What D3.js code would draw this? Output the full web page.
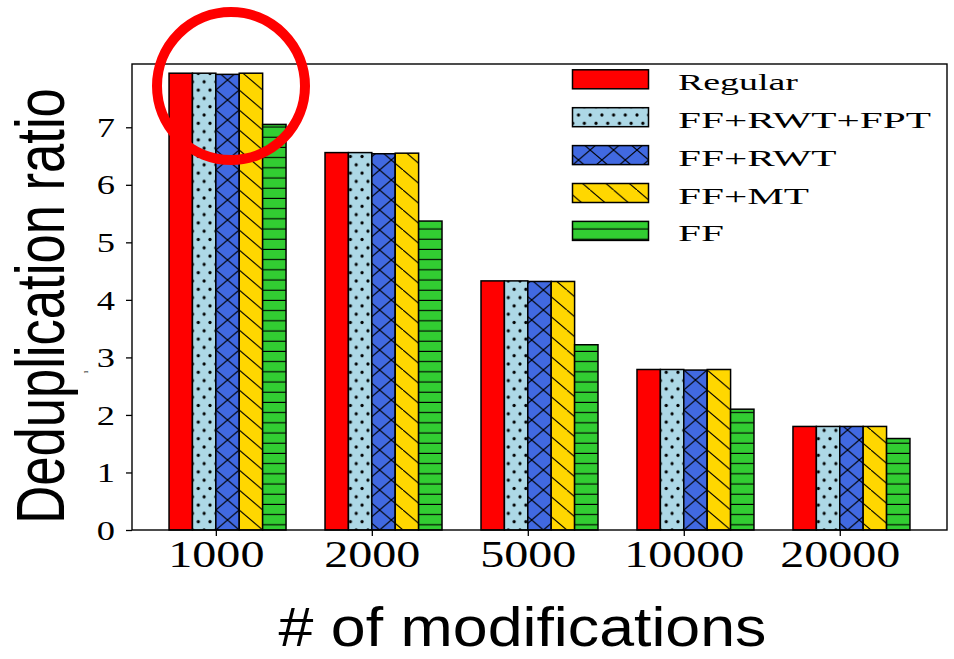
<!DOCTYPE html>
<html>
<head>
<meta charset="utf-8">
<script src="https://cdn.jsdelivr.net/npm/d3@7"></script>
<style>
  html, body { margin: 0; padding: 0; background: #fff; }
  svg { display: block; }
</style>
</head>
<body>
<script>
// ---- data ----
const categories = ["1000", "2000", "5000", "10000", "20000"];
const seriesNames = ["Regular", "FF+RWT+FPT", "FF+RWT", "FF+MT", "FF"];
const regular   = [7.94, 6.56, 4.33, 2.79, 1.80];
const ffRwtFpt  = [7.94, 6.56, 4.33, 2.79, 1.80];
const ffRwt     = [7.92, 6.54, 4.32, 2.78, 1.80];
const ffMt      = [7.94, 6.55, 4.32, 2.79, 1.80];
const ff        = [7.05, 5.37, 3.22, 2.10, 1.59];
const yTicks    = [0, 1, 2, 3, 4, 5, 6, 7];
const xLabel = "# of modifications";
const yLabel = "Deduplication ratio";

const seriesValues = [regular, ffRwtFpt, ffRwt, ffMt, ff];
const colors = ["#ff0000", "#add8e6", "#4169e1", "#ffd700", "#32cd32"];
const hatchIds = [null, "hDots", "hCross", "hBack", "hHoriz"];

const W = 954, H = 659;
const plot = { left: 132, right: 947, top: 64, bottom: 530 };
const barW = 0.15;

const svg = d3.select("body").append("svg").attr("width", W).attr("height", H);

const x = d3.scaleLinear().domain([-0.5375, 4.6875]).range([plot.left, plot.right]);
const y = d3.scaleLinear().domain([0, 8.1]).range([plot.bottom, plot.top]);

// ---- hatch patterns ----
const defs = svg.append("defs");
const tileW = x(barW) - x(0), tileH = 20;
function pat(id, w, h, ox) {
  return defs.append("pattern").attr("id", id).attr("patternUnits", "userSpaceOnUse")
    .attr("x", ox).attr("y", plot.bottom).attr("width", w).attr("height", h);
}
let p = pat("hCross", tileW, tileH, x(0));
p.append("path").attr("d", `M0,0L${tileW},${tileH}M${tileW},0L0,${tileH}`)
  .attr("stroke", "#000").attr("stroke-width", 1.1).attr("fill", "none");
p = pat("hBack", tileW, tileH, x(0.15));
p.append("path").attr("d", `M0,0L${tileW},${tileH}M${-tileW},0L0,${tileH}M${tileW},${-tileH}L${2*tileW},0`)
  .attr("stroke", "#000").attr("stroke-width", 1.1).attr("fill", "none");
p = pat("hHoriz", 20, 10.2, 0);
p.append("path").attr("d", "M0,5L20,5").attr("stroke", "#000").attr("stroke-width", 1.1);
const dw = tileW / 2, dh = 16.6;
p = pat("hDots", dw, dh, x(-0.15));
[[0,0],[dw,0],[0,dh],[dw,dh],[dw/2,dh/2]].forEach(([cx, cy]) =>
  p.append("circle").attr("cx", cx).attr("cy", cy).attr("r", 1.6).attr("fill", "#000"));

// ---- bars ----
const flat = [];
seriesValues.forEach((vals, k) => vals.forEach((v, i) => flat.push({ k, i, v })));
const gBars = svg.append("g");
flat.forEach(d => {
  const x0 = x(d.i + (d.k - 2) * barW), x1 = x(d.i + (d.k - 1) * barW);
  gBars.append("rect").attr("x", x0).attr("y", y(d.v)).attr("width", x1 - x0)
    .attr("height", y(0) - y(d.v)).attr("fill", colors[d.k]);
  if (hatchIds[d.k]) {
    gBars.append("rect").attr("x", x0).attr("y", y(d.v)).attr("width", x1 - x0)
      .attr("height", y(0) - y(d.v)).attr("fill", `url(#${hatchIds[d.k]})`);
  }
  gBars.append("rect").attr("x", x0).attr("y", y(d.v)).attr("width", x1 - x0)
    .attr("height", y(0) - y(d.v)).attr("fill", "none").attr("stroke", "#000").attr("stroke-width", 1.5);
});

// ---- axes ----
const serif = "'Liberation Serif', 'Times New Roman', serif";
const xAxis = d3.axisBottom(x).tickValues(d3.range(categories.length))
  .tickFormat(i => categories[i]).tickSize(6).tickPadding(8);
const gx = svg.append("g").attr("transform", `translate(0,${plot.bottom})`).call(xAxis);
gx.select(".domain").remove();
gx.selectAll(".tick line").attr("stroke", "#000").attr("stroke-width", 1.3);
gx.selectAll(".tick text").attr("font-family", serif).attr("font-size", 37)
  .attr("fill", "#000").attr("transform", "scale(1.3,1)").attr("dy", "0.71em").attr("y", 11);

const yAxis = d3.axisLeft(y).tickValues(yTicks).tickFormat(d3.format("d")).tickSize(6).tickPadding(11);
const gy = svg.append("g").attr("transform", `translate(${plot.left},0)`).call(yAxis);
gy.select(".domain").remove();
gy.selectAll(".tick line").attr("stroke", "#000").attr("stroke-width", 1.3);
gy.selectAll(".tick text").attr("font-family", serif).attr("font-size", 27)
  .attr("fill", "#000").attr("x", -17 / 1.35).attr("transform", "scale(1.35,1)").attr("dy", "0.34em");

// frame
svg.append("rect").attr("x", plot.left).attr("y", plot.top)
  .attr("width", plot.right - plot.left).attr("height", plot.bottom - plot.top)
  .attr("fill", "none").attr("stroke", "#000").attr("stroke-width", 1.4);

// ---- legend ----
const lg = svg.append("g");
seriesNames.forEach((name, k) => {
  const cy = 79.3 + k * 37.9;
  const rx = 572.5, rw = 76, rh = 19;
  lg.append("rect").attr("x", rx).attr("y", cy - rh / 2).attr("width", rw).attr("height", rh)
    .attr("fill", colors[k]);
  if (hatchIds[k]) lg.append("rect").attr("x", rx).attr("y", cy - rh / 2).attr("width", rw).attr("height", rh)
    .attr("fill", `url(#${hatchIds[k]})`);
  lg.append("rect").attr("x", rx).attr("y", cy - rh / 2).attr("width", rw).attr("height", rh)
    .attr("fill", "none").attr("stroke", "#000").attr("stroke-width", 1.5);
  const sx = /[a-z]/.test(name) ? 1.58 : 1.72;
  lg.append("text").attr("transform", `translate(678,${cy + 10.5}) scale(${sx},1)`)
    .attr("font-family", serif).attr("font-size", 24).attr("fill", "#000").text(name);
});

// ---- axis labels ----
const sans = "'Liberation Sans', Arial, Helvetica, sans-serif";
svg.append("text").attr("transform", "translate(522.5,646) scale(1.14,1)")
  .attr("text-anchor", "middle").attr("font-family", sans).attr("font-size", 55)
  .attr("fill", "#000").text(xLabel);
svg.append("text").attr("transform", "translate(64,306) scale(1.3,1) rotate(-90)")
  .attr("text-anchor", "middle").attr("font-family", sans).attr("font-size", 52.6)
  .attr("fill", "#000").text(yLabel);
// tiny stray mark
svg.append("text").attr("transform", "translate(88,372) rotate(-90)")
  .attr("text-anchor", "middle").attr("font-family", serif).attr("font-size", 7)
  .attr("fill", "#000").text("1");

// ---- red highlight circle ----
svg.append("circle").attr("cx", 231).attr("cy", 86).attr("r", 74)
  .attr("fill", "none").attr("stroke", "#ff0000").attr("stroke-width", 10);
</script>
</body>
</html>
